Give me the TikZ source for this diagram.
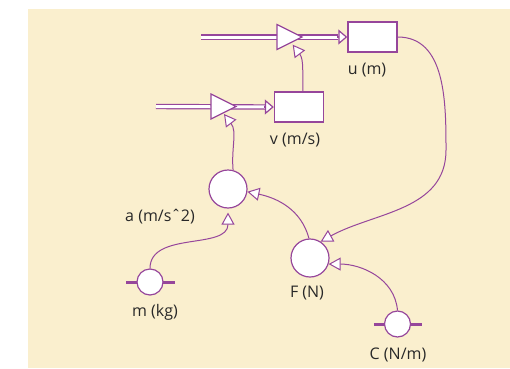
\documentclass[tikz,border=0pt]{standalone}
\usepackage{fontspec}
\setmainfont{Open Sans}
\usetikzlibrary{arrows.meta,backgrounds,calc,shapes.geometric}
\definecolor{sdpurple}{RGB}{150,70,155}
\definecolor{sdcream}{RGB}{250,239,206}
\definecolor{sdtext}{RGB}{40,40,40}
\tikzset{
  stock/.style={draw=sdpurple, fill=white, line width=1.4pt, minimum width=49pt, minimum height=30pt, inner sep=0pt},
  aux/.style={circle, draw=sdpurple, fill=white, line width=1.2pt, minimum size=38pt, inner sep=0pt},
  const/.style={circle, draw=sdpurple, fill=white, line width=1.2pt, minimum size=26pt, inner sep=0pt},
  valve/.style={isosceles triangle, isosceles triangle stretches, draw=sdpurple, fill=white, line width=1.2pt, minimum width=25pt, minimum height=25pt, inner sep=0pt, outer sep=0pt},
  flow/.style={draw=sdpurple, line width=1.2pt, double=white, double distance=3pt},
  flowtip/.style={draw=sdpurple, line width=1.2pt, -{Triangle[length=9pt,width=15pt,fill=white]}},
  link/.style={draw=sdpurple, line width=1pt, -{Triangle[length=12pt,width=13pt,fill=white]}},
  bar/.style={draw=sdpurple, line width=3pt},
  lbl/.style={text=sdtext, font=\fontsize{16}{18}\selectfont}
}
\begin{document}
\begin{tikzpicture}[x=1pt,y=1pt]
\useasboundingbox (0,0) rectangle (510,368);
\begin{scope}[on background layer]
\fill[sdcream] (28,0) rectangle (510,359);
\end{scope}
% stocks
\node[stock] (u) at (372.5,331) {};
\node[lbl] (uL) at (367,298) {u (m)};
\node[stock] (v) at (299,261) {};
\node[lbl] (vL) at (295,228) {v (m/s)};
% valves
\node[valve, anchor=apex] (valveU) at (302,331) {};
\node[valve, anchor=apex] (valveV) at (236,261.5) {};
\coordinate (srcU) at (201,331);
\coordinate (srcV) at (156,261.5);
% converters
\node[aux] (a) at (228,179) {};
\node[lbl] (aL) at (160,151) {a (m/sˆ2)};
\node[aux] (F) at (310,110) {};
\node[lbl] (FL) at (307,75) {F (N)};
\node[const] (m) at (150,86) {};
\node[lbl] (mL) at (155,56) {m (kg)};
\node[const] (C) at (397.5,44) {};
\node[lbl] (CL) at (398,13) {C (N/m)};
\coordinate (uBend) at (446,218);
% flows
\begin{scope}[on background layer]
\draw[flow] (srcU) -- ([xshift=-9pt]u.west);
\draw[flow] (srcV) -- ([xshift=-9pt]v.west);
\draw[bar] ([xshift=-10pt]m.west) -- ([xshift=11pt]m.east);
\draw[bar] ([xshift=-10pt]C.west) -- ([xshift=11pt]C.east);
\end{scope}
\draw[flowtip] ([xshift=-10pt]u.west) -- (u.west);
\draw[flowtip] ([xshift=-10pt]v.west) -- (v.west);
% links
\draw[link] ([xshift=4pt]v.north) to[out=92,in=-53] ([shift={(-9.3pt,-7.7pt)}]valveU.apex);
\draw[link] (a.75) to[out=95,in=-53] ([shift={(-12pt,-7.5pt)}]valveV.apex);
\draw[link] (m.north) to[out=90,in=-90] ([yshift=-4pt]a.south);
\draw[link] (F.93) to[out=105,in=-12] (a.-8);
\draw[link] (u.east) to[out=0,in=90] (uBend) to[out=-90,in=29] (F.57);
\draw[link] (C.north) to[out=95,in=0] (F.-18);
\end{tikzpicture}
\end{document}
